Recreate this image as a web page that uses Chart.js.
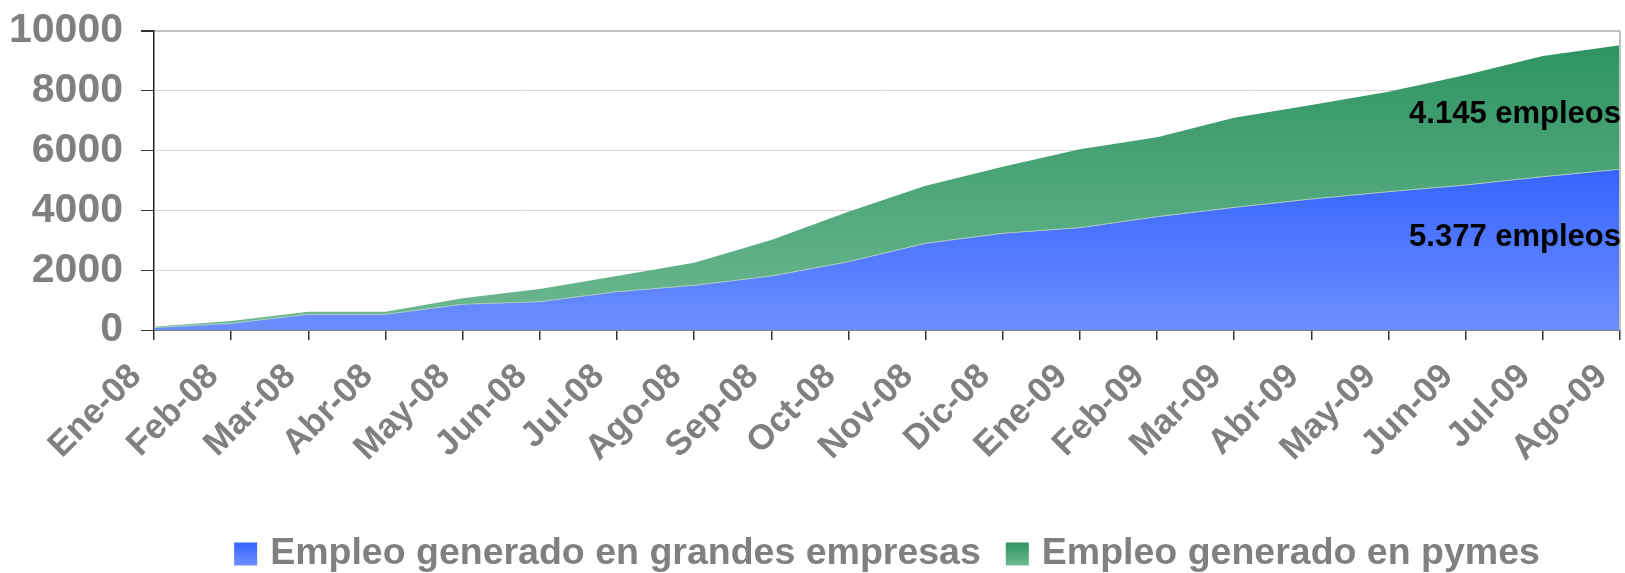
<!DOCTYPE html>
<html><head><meta charset="utf-8">
<script src="https://cdn.jsdelivr.net/npm/chart.js@4"></script>
<style>html,body{margin:0;padding:0;background:#fff;} canvas{display:block;}</style>
</head><body>
<canvas id="c" width="1625" height="573"></canvas>
<script>
const categories = ['Ene-08','Feb-08','Mar-08','Abr-08','May-08','Jun-08','Jul-08','Ago-08','Sep-08','Oct-08','Nov-08','Dic-08','Ene-09','Feb-09','Mar-09','Abr-09','May-09','Jun-09','Jul-09','Ago-09'];
const grandes = [80, 224, 525, 525, 860, 947, 1282, 1494, 1806, 2285, 2899, 3234, 3423, 3790, 4100, 4381, 4626, 4849, 5127, 5377];
const pymes   = [30, 76, 87, 87, 200, 424, 524, 757, 1204, 1672, 1927, 2228, 2620, 2654, 3000, 3144, 3344, 3679, 4037, 4145];
const yTicks = [0, 2000, 4000, 6000, 8000, 10000];
const seriesNames = ['Empleo generado en grandes empresas', 'Empleo generado en pymes'];
const annotationTexts = ['4.145 empleos', '5.377 empleos'];
const annotationValues = [7200, 3100];

const FONT = '"Liberation Sans", Arial, sans-serif';
const blueTop = [55, 100, 255], blueBot = [108, 142, 255];
const greenTop = [46, 148, 98], greenBot = [110, 184, 146];
const rgb = c => `rgb(${c[0]},${c[1]},${c[2]})`;

function makeGrad(chart, maxVal, top, bot) {
  const ca = chart.chartArea;
  if (!ca) return rgb(top);
  const y0 = chart.scales.y.getPixelForValue(maxVal);
  const g = chart.ctx.createLinearGradient(0, y0, 0, ca.bottom);
  g.addColorStop(0, rgb(top));
  g.addColorStop(1, rgb(bot));
  return g;
}
const totals = grandes.map((v, i) => v + pymes[i]);

const extras = {
  id: 'extras',
  afterDatasetsDraw(chart) {
    const ctx = chart.ctx, ca = chart.chartArea, y = chart.scales.y;
    ctx.save();
    ctx.strokeStyle = '#c0c0c0';
    ctx.lineWidth = 2;
    ctx.beginPath();
    ctx.moveTo(ca.right, ca.top);
    ctx.lineTo(ca.right, ca.bottom);
    ctx.stroke();
    ctx.fillStyle = '#000';
    ctx.font = 'bold 31px ' + FONT;
    ctx.textAlign = 'right';
    ctx.textBaseline = 'middle';
    annotationTexts.forEach((t, i) => ctx.fillText(t, ca.right + 1, y.getPixelForValue(annotationValues[i])));
    ctx.restore();
  },
  afterDraw(chart) {
    const ctx = chart.ctx, ca = chart.chartArea;
    ctx.save();
    ctx.font = 'bold 37.5px ' + FONT;
    const box = 23, boxH = 23, gap = 13, spacing = 25;
    const w = seriesNames.map(s => ctx.measureText(s).width);
    const total = box + gap + w[0] + spacing + box + gap + w[1];
    let x = (ca.left + ca.right) / 2 - total / 2;
    const yc = 554;
    const cols = [[blueTop, blueBot], [greenTop, greenBot]];
    seriesNames.forEach((s, i) => {
      const g = ctx.createLinearGradient(0, yc - boxH / 2, 0, yc + boxH / 2);
      g.addColorStop(0, rgb(cols[i][0]));
      g.addColorStop(1, rgb(cols[i][1]));
      ctx.fillStyle = g;
      ctx.fillRect(x, yc - boxH / 2, box, boxH);
      x += box + gap;
      ctx.fillStyle = '#808080';
      ctx.textAlign = 'left';
      ctx.textBaseline = 'middle';
      ctx.fillText(s, x, yc);
      x += w[i] + spacing;
    });
    ctx.restore();
  }
};

new Chart(document.getElementById('c'), {
  type: 'line',
  data: {
    labels: categories,
    datasets: [
      {
        label: seriesNames[0],
        data: grandes,
        fill: 'origin',
        borderColor: '#a9cdb9',
        borderWidth: 1,
        pointRadius: 0,
        tension: 0,
        backgroundColor: ctx => makeGrad(ctx.chart, Math.max(...grandes), blueTop, blueBot)
      },
      {
        label: seriesNames[1],
        data: pymes,
        fill: '-1',
        borderWidth: 0,
        borderColor: 'rgba(0,0,0,0)',
        pointRadius: 0,
        tension: 0,
        backgroundColor: ctx => makeGrad(ctx.chart, Math.max(...totals), greenTop, greenBot)
      }
    ]
  },
  options: {
    responsive: false,
    animation: false,
    devicePixelRatio: 1,
    layout: { padding: { left: 0, right: 5, top: 31, bottom: 103 } },
    plugins: { legend: { display: false }, tooltip: { enabled: false } },
    scales: {
      x: {
        offset: false,
        grid: { display: true, drawOnChartArea: false, tickLength: 10, tickColor: '#333', lineWidth: 1.5 },
        border: { color: '#222', width: 1.5 },
        ticks: {
          autoSkip: false, minRotation: 45, maxRotation: 45, padding: 16, labelOffset: -18,
          color: '#808080', font: { family: FONT, size: 35, weight: 'bold' }
        },
        afterFit(s) { s.height = 140; s.paddingLeft = 0; s.paddingRight = 0; }
      },
      y: {
        stacked: true,
        min: 0, max: 10000,
        afterBuildTicks(s) { s.ticks = yTicks.map(v => ({ value: v })); },
        grid: {
          color: c => c.tick && c.tick.value === 10000 ? '#c0c0c0' : '#d9d9d9',
          lineWidth: c => c.tick && c.tick.value === 10000 ? 2 : 1,
          tickLength: 13, tickColor: '#333'
        },
        border: { color: '#222', width: 1.5 },
        ticks: {
          padding: 18, color: '#808080',
          callback: v => String(v),
          font: { family: FONT, size: 41, weight: 'bold' }
        },
        afterFit(s) { s.width = 154; s.paddingTop = 0; s.paddingBottom = 0; }
      }
    }
  },
  plugins: [extras]
});
</script>
</body></html>
